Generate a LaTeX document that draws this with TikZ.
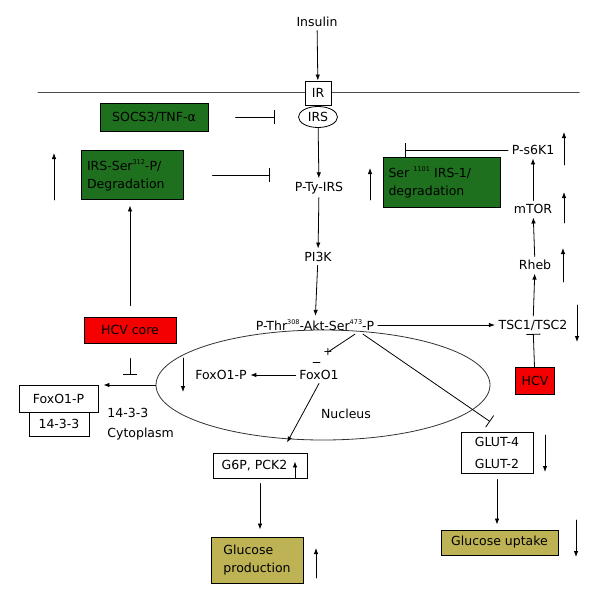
\documentclass[tikz,border=0pt]{standalone}
\usepackage{fontspec}
\setmainfont{DejaVu Sans}
\usetikzlibrary{arrows.meta,shapes.geometric}
\definecolor{hepgreen}{RGB}{30,112,30}
\definecolor{hcvred}{RGB}{245,0,0}
\definecolor{glucol}{RGB}{189,178,84}
\newcommand{\upidx}[1]{\raisebox{0.85ex}{\fontsize{6.5}{6.5}\selectfont #1}}
\tikzset{
  box/.style={draw, line width=0.9pt, inner sep=3pt, text=black},
  gbox/.style={box, fill=hepgreen},
  rbox/.style={box, fill=hcvred},
  obox/.style={box, fill=glucol},
  inh/.style={-{Bar[width=14pt]}},
}
\begin{document}
\begin{tikzpicture}[x=1pt, y=-1pt, font=\fontsize{12.5}{18}\selectfont, line width=0.8pt, line cap=round, >={Latex[length=6pt,width=4.5pt]}]
\useasboundingbox (0,0) rectangle (600,607);
% membrane and nucleus
\draw[black!70, line width=1pt] (38,93) -- (579,93);
\node[draw, ellipse, black!80, minimum width=334pt, minimum height=110pt] (nucleus) at (323,385) {};
% receptor side
\node (insulin) at (317,22) {Insulin};
\node[box, fill=white, minimum width=26pt, minimum height=24pt, inner sep=0pt] (ir) at (318,93) {IR};
\node[draw, ellipse, minimum width=39pt, minimum height=21pt, inner sep=0pt] (irs) at (318,117) {IRS};
\node[gbox, minimum width=108pt, minimum height=28pt] (socs) at (154,117) {SOCS3/TNF-α};
\node (ptyirs) at (319,188) {P-Ty-IRS};
\node[gbox, align=left, text width=90pt, inner xsep=6pt, minimum height=49pt] (irsser) at (132,175) {IRS-Ser\upidx{312}-P/\\Degradation};
\node[gbox, align=left, text width=107pt, inner xsep=5pt, minimum height=50pt] (serirs) at (442,182) {Ser \upidx{1101} IRS-1/\\degradation};
\node (pitk) at (318,257) {PI3K};
\node (akt) at (315,325) {P-Thr\upidx{308}-Akt-Ser\upidx{473}-P};
% mTOR branch
\node (ps6k) at (533,150) {P-s6K1};
\node (mtor) at (533,209) {mTOR};
\node (rheb) at (535,265) {Rheb};
\node (tsc) at (533,325) {TSC1/TSC2};
\node[rbox, minimum width=39pt, minimum height=27pt] (hcv) at (535,381) {HCV};
\node[rbox, minimum width=92pt, minimum height=26pt] (hcvcore) at (130,330) {HCV core};
% nucleus / cytoplasm
\node (foxop) at (221,375) {FoxO1-P};
\node (foxo) at (319,375) {FoxO1};
\node (nuclbl) at (346,414) {Nucleus};
\node[inner sep=0pt, font=\fontsize{11}{11}\selectfont] (plusmark) at (328,352) {+};
\node[box, minimum width=79pt, minimum height=27pt] (foxopc) at (58.5,398.5) {FoxO1-P};
\node[box, minimum width=60pt, minimum height=24pt] (yw) at (59,424) {14-3-3};
\node[anchor=west, inner sep=0pt] (ywlbl) at (107,413) {14-3-3};
\node[anchor=west, inner sep=0pt] (cyto) at (107,434) {Cytoplasm};
% outputs
\node[box, minimum width=94pt, minimum height=25pt] (g6p) at (260,465.5) {G6P, PCK2\hspace*{11pt}};
\node[obox, align=left, minimum width=92pt, minimum height=46pt] (glucprod) at (257,560) {Glucose\\production};
\node[box, align=left, minimum width=72pt, minimum height=41pt] (glut) at (497,452.5) {GLUT-4\\[4pt]GLUT-2};
\node[obox, minimum width=117pt, minimum height=25pt] (uptake) at (499.5,542.5) {Glucose uptake};
\coordinate (s6bar) at ([xshift=22pt]serirs.north west);
% connectors
\draw[->] (insulin) -- (ir);
\draw[inh, shorten <=27pt, shorten >=23pt] (socs.east) -- (socs.east -| irs.west);
\draw[->] (irs) -- (ptyirs);
\draw[inh, shorten <=29pt, shorten >=21pt] (irsser.east) -- (irsser.east -| ptyirs.west);
\draw[->] (ptyirs) -- (pitk);
\draw[->] (pitk) -- (akt);
\draw[->] (akt) -- (tsc);
\draw[->] (tsc) -- (rheb);
\draw[->] (rheb) -- (mtor);
\draw[->] (mtor) -- (ps6k);
\draw[inh] (hcv) -- (tsc);
\draw[inh] (ps6k.west) -- (s6bar |- ps6k.west);
\draw[->, shorten <=11pt, shorten >=5.5pt] (hcvcore.north) -- (hcvcore.north |- irsser.south);
\draw[inh, shorten <=15pt, shorten >=10pt] (hcvcore.south) -- (hcvcore.south |- foxopc.north);
\draw[->, shorten >=5pt] (nucleus.west) -- (nucleus.west -| foxopc.east);
\draw[->] (foxo) -- (foxop);
\draw ([xshift=40pt]akt.south) -- (plusmark.center);
\draw (313,362) -- (320,362);
\draw[->] (foxo.south) -- ([xshift=27pt,yshift=10pt]g6p.north);
\draw[inh] ([xshift=48pt]akt.south) -- ([xshift=-7pt,yshift=10pt]glut.north);
\draw[->, shorten <=5pt, shorten >=7pt] (g6p.south) -- (g6p.south |- glucprod.north);
\draw[->, shorten <=6pt, shorten >=5pt] (glut.south) -- (glut.south |- uptake.north);
% up and down trends
\draw[->] ([xshift=35pt]g6p.south) -- ++(0,-17);
\draw[->] (54,200) -- (54,153);
\draw[->] (370,200) -- (370,168);
\draw[->] (564,165) -- (564,132);
\draw[->] (564,223) -- (564,192);
\draw[->] (563,282) -- (563,248);
\draw[->] (577,305) -- (577,342);
\draw[->] (183,358) -- (183,392);
\draw[->] (316,578) -- (316,548);
\draw[->] (545,435) -- (545,472);
\draw[->] (576,520) -- (576,557);
\end{tikzpicture}
\end{document}
